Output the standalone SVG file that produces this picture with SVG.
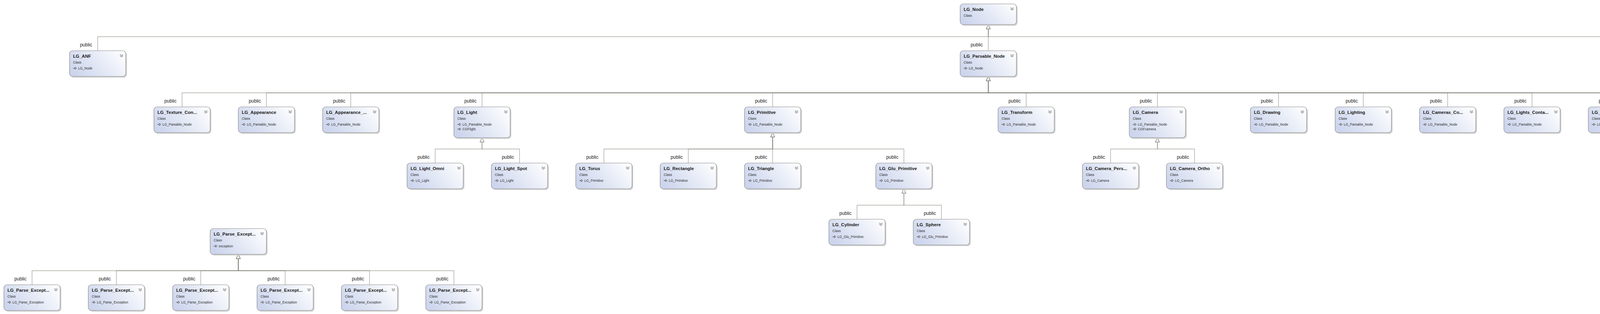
<svg xmlns="http://www.w3.org/2000/svg" width="5275" height="805" viewBox="0 0 5275 805">
<style>
.sh{fill:#d3d3d3}
.bx{fill:url(#hdr);stroke:#8b8b8b;stroke-width:1.2}
.bw{fill:#ffffff;stroke:#8b8b8b;stroke-width:1.2}
.t{font-family:"Liberation Sans",Arial,sans-serif;font-size:11.5px;font-weight:bold;fill:#1b1b1b}
.k{font-family:"Liberation Sans",Arial,sans-serif;font-size:8.5px;fill:#2b2b2b}
.b{font-family:"Liberation Sans",Arial,sans-serif;font-size:8.5px;fill:#2b2b2b}
.sec{font-family:"Liberation Sans",Arial,sans-serif;font-size:11px;fill:#2b2b2b}
.m{font-family:"Liberation Sans",Arial,sans-serif;font-size:11px;fill:#2b2b2b}
.band{fill:#eceff5}
.lbl{font-family:"Liberation Sans",Arial,sans-serif;font-size:12px;fill:#222;text-anchor:end}
.e{fill:none;stroke:#6f6f66;stroke-opacity:0.6;stroke-width:1.4;marker-end:url(#tri)}
</style>
<defs>
<linearGradient id="hdr" x1="0" y1="0.7" x2="1" y2="0.3">
<stop offset="0" stop-color="#ccd5ed"/>
<stop offset="0.5" stop-color="#e3e8f5"/>
<stop offset="1" stop-color="#fbfcfe"/>
</linearGradient>
<marker id="tri" markerUnits="userSpaceOnUse" markerWidth="14" markerHeight="14" refX="0" refY="0" orient="auto" overflow="visible" viewBox="-1 -7 14 14">
<path d="M0,-5 L11,0 L0,5 Z" fill="#ffffff" stroke="#77776f" stroke-width="1.1"/>
</marker>
<symbol id="ih" overflow="visible"><path d="M0,0 H6" stroke="#333" stroke-width="1.1"/><path d="M5,-3 V3 L9,0 Z" fill="#fff" stroke="#333" stroke-width="1"/></symbol>
<symbol id="cd" overflow="visible"><path d="M-4,-3.5 L0,-0.5 L4,-3.5 M-4,0 L0,3 L4,0" fill="none" stroke="#777" stroke-width="1.3"/></symbol>
<symbol id="cu" overflow="visible"><path d="M-4,3.5 L0,0.5 L4,3.5 M-4,0 L0,-3 L4,0" fill="none" stroke="#777" stroke-width="1.3"/></symbol>
<symbol id="mb" overflow="visible"><rect x="-4" y="-4" width="8" height="8" fill="#fff" stroke="#6b6b6b" stroke-width="1"/><path d="M-2,0 H2" stroke="#333" stroke-width="1"/></symbol>
<symbol id="fi" overflow="visible"><ellipse cx="0" cy="0" rx="4.6" ry="3" transform="rotate(-25)" fill="#1f6fb0"/><ellipse cx="-1" cy="-1" rx="2" ry="1" transform="rotate(-25)" fill="#8cc3ea"/><rect x="3" y="2.5" width="4" height="3.2" fill="#333"/><path d="M3.8,2.5 V1.3 A1.2,1.2 0 0 1 6.2,1.3 V2.5" fill="none" stroke="#333" stroke-width="0.8"/></symbol>
<symbol id="mi" overflow="visible"><path d="M0,-4.5 L4,-2.2 V2.2 L0,4.5 L-4,2.2 V-2.2 Z M-4,-2.2 L0,0 L4,-2.2 M0,0 V4.5" fill="none" stroke="#7b3ea3" stroke-width="1.1"/></symbol>
</defs>
<rect width="5275" height="805" fill="#ffffff"/>

<g id="connectors">
<path class="e" d="M250,130 V94 H2530 V74"/>
<path class="e" d="M2530,130 V74"/>
<path class="e" d="M4787,130 V94 H2530 V74"/>
<path class="e" d="M466,274 V238 H2530 V207"/>
<path class="e" d="M682,274 V238 H2530 V207"/>
<path class="e" d="M898,274 V238 H2530 V207"/>
<path class="e" d="M1234,274 V238 H2530 V207"/>
<path class="e" d="M1978,274 V238 H2530 V207"/>
<path class="e" d="M2627,274 V238 H2530 V207"/>
<path class="e" d="M2963,274 V238 H2530 V207"/>
<path class="e" d="M3273,274 V238 H2530 V207"/>
<path class="e" d="M3490,274 V238 H2530 V207"/>
<path class="e" d="M3706,274 V238 H2530 V207"/>
<path class="e" d="M3922,274 V238 H2530 V207"/>
<path class="e" d="M4138,274 V238 H2530 V207"/>
<path class="e" d="M4354,274 V238 H2530 V207"/>
<path class="e" d="M4570,274 V238 H2530 V207"/>
<path class="e" d="M1114,418 V382 H1234 V364"/>
<path class="e" d="M1330,418 V382 H1234 V364"/>
<path class="e" d="M1546,418 V382 H1978 V351"/>
<path class="e" d="M1762,418 V382 H1978 V351"/>
<path class="e" d="M1978,418 V351"/>
<path class="e" d="M2314,418 V382 H1978 V351"/>
<path class="e" d="M2843,418 V382 H2963 V364"/>
<path class="e" d="M3058,418 V382 H2963 V364"/>
<path class="e" d="M2194,562 V526 H2314 V495"/>
<path class="e" d="M2410,562 V526 H2314 V495"/>
<path class="e" d="M82,730 V694 H610 V663"/>
<path class="e" d="M298,730 V694 H610 V663"/>
<path class="e" d="M514,730 V694 H610 V663"/>
<path class="e" d="M730,730 V694 H610 V663"/>
<path class="e" d="M946,730 V694 H610 V663"/>
<path class="e" d="M1162,730 V694 H610 V663"/>
<text class="lbl" x="236" y="119">public</text>
<text class="lbl" x="2516" y="119">public</text>
<text class="lbl" x="4773" y="119">public</text>
<text class="lbl" x="452" y="263">public</text>
<text class="lbl" x="668" y="263">public</text>
<text class="lbl" x="884" y="263">public</text>
<text class="lbl" x="1220" y="263">public</text>
<text class="lbl" x="1964" y="263">public</text>
<text class="lbl" x="2613" y="263">public</text>
<text class="lbl" x="2949" y="263">public</text>
<text class="lbl" x="3259" y="263">public</text>
<text class="lbl" x="3476" y="263">public</text>
<text class="lbl" x="3692" y="263">public</text>
<text class="lbl" x="3908" y="263">public</text>
<text class="lbl" x="4124" y="263">public</text>
<text class="lbl" x="4340" y="263">public</text>
<text class="lbl" x="4556" y="263">public</text>
<text class="lbl" x="1100" y="407">public</text>
<text class="lbl" x="1316" y="407">public</text>
<text class="lbl" x="1532" y="407">public</text>
<text class="lbl" x="1748" y="407">public</text>
<text class="lbl" x="1964" y="407">public</text>
<text class="lbl" x="2300" y="407">public</text>
<text class="lbl" x="2829" y="407">public</text>
<text class="lbl" x="3044" y="407">public</text>
<text class="lbl" x="2180" y="551">public</text>
<text class="lbl" x="2396" y="551">public</text>
<text class="lbl" x="68" y="719">public</text>
<text class="lbl" x="284" y="719">public</text>
<text class="lbl" x="500" y="719">public</text>
<text class="lbl" x="716" y="719">public</text>
<text class="lbl" x="932" y="719">public</text>
<text class="lbl" x="1148" y="719">public</text>
</g>

<g id="LG_Node" transform="translate(2458,10)">
<rect class="sh" x="3" y="3" width="144" height="53" rx="8"/><rect class="bx" width="144" height="53" rx="8"/><use href="#cd" x="133" y="13"/>
<text class="t" x="9" y="18">LG_Node</text><text class="k" x="9" y="33">Class</text>
</g>

<g id="LG_Scene" transform="translate(4954,10)">
<rect class="sh" x="3" y="3" width="144" height="218" rx="8"/><rect class="bw" width="144" height="218" rx="8"/>
<path d="M0.6,8 A7.4,7.4 0 0 1 8,0.6 H136 A7.4,7.4 0 0 1 143.4,8 V65 H0.6 Z" fill="url(#hdr)"/>
<rect class="band" x="0.6" y="65" width="142.8" height="25"/>
<rect class="band" x="0.6" y="128" width="142.8" height="24"/>
<rect width="144" height="218" rx="8" fill="none" stroke="#8b8b8b" stroke-width="1.2"/>
<use href="#cu" x="133" y="13"/>
<text class="t" x="9" y="18">LG_Scene</text><text class="k" x="9" y="33">Class</text>
<use href="#ih" x="9" y="45"/><text class="b" x="22" y="48">CGFscene</text>
<use href="#mb" x="13" y="78"/><text class="sec" x="22" y="82">Fields</text>
<use href="#fi" x="27" y="100"/><text class="m" x="46" y="104">anf</text>
<use href="#fi" x="27" y="118"/><text class="m" x="46" y="122">docName</text>
<use href="#mb" x="13" y="140"/><text class="sec" x="22" y="144">Methods</text>
<use href="#mi" x="27" y="162"/><text class="m" x="46" y="166">display</text>
<use href="#mi" x="27" y="180"/><text class="m" x="46" y="184">init</text>
<use href="#mi" x="27" y="199"/><text class="m" x="46" y="203">setDocName</text>
</g>

<g id="LG_SceneInterface" transform="translate(5123,10)">
<rect class="sh" x="3" y="3" width="143" height="192" rx="8"/><rect class="bw" width="143" height="192" rx="8"/>
<path d="M0.6,8 A7.4,7.4 0 0 1 8,0.6 H135 A7.4,7.4 0 0 1 142.4,8 V65 H0.6 Z" fill="url(#hdr)"/>
<rect class="band" x="0.6" y="65" width="141.8" height="25"/>
<rect width="143" height="192" rx="8" fill="none" stroke="#8b8b8b" stroke-width="1.2"/>
<use href="#cu" x="132" y="13"/>
<text class="t" x="9" y="18">LG_SceneInterface</text><text class="k" x="9" y="33">Class</text>
<use href="#ih" x="9" y="45"/><text class="b" x="22" y="48">CGFinterface</text>
<use href="#mb" x="12" y="78"/><text class="sec" x="20" y="82">Methods</text>
<use href="#mi" x="25" y="100"/><text class="m" x="45" y="104">~LG_SceneInter...</text>
<use href="#mi" x="25" y="118"/><text class="m" x="45" y="122">initGUI</text>
<use href="#mi" x="25" y="137"/><text class="m" x="45" y="141">LG_SceneInterf...</text>
<use href="#mi" x="25" y="155"/><text class="m" x="45" y="159">processGUI</text>
<use href="#mi" x="25" y="173"/><text class="m" x="45" y="177">processKeyboard</text>
</g>

<g id="LG_ANF" transform="translate(178,130)">
<rect class="sh" x="3" y="3" width="144" height="66" rx="8"/><rect class="bx" width="144" height="66" rx="8"/><use href="#cd" x="133" y="13"/>
<text class="t" x="9" y="18">LG_ANF</text><text class="k" x="9" y="33">Class</text><use href="#ih" x="9" y="45"/><text class="b" x="22" y="48">LG_Node</text>
</g>
<g id="LG_Parsable_Node" transform="translate(2458,130)">
<rect class="sh" x="3" y="3" width="144" height="66" rx="8"/><rect class="bx" width="144" height="66" rx="8"/><use href="#cd" x="133" y="13"/>
<text class="t" x="9" y="18">LG_Parsable_Node</text><text class="k" x="9" y="33">Class</text><use href="#ih" x="9" y="45"/><text class="b" x="22" y="48">LG_Node</text>
</g>
<g id="LG_Graph" transform="translate(4715,130)">
<rect class="sh" x="3" y="3" width="144" height="66" rx="8"/><rect class="bx" width="144" height="66" rx="8"/><use href="#cd" x="133" y="13"/>
<text class="t" x="9" y="18">LG_Graph</text><text class="k" x="9" y="33">Class</text><use href="#ih" x="9" y="45"/><text class="b" x="22" y="48">LG_Node</text>
</g>

<g id="LG_Texture_Container" transform="translate(394,274)">
<rect class="sh" x="3" y="3" width="144" height="66" rx="8"/><rect class="bx" width="144" height="66" rx="8"/><use href="#cd" x="133" y="13"/>
<text class="t" x="9" y="18">LG_Texture_Con...</text><text class="k" x="9" y="33">Class</text><use href="#ih" x="9" y="45"/><text class="b" x="22" y="48">LG_Parsable_Node</text>
</g>
<g id="LG_Appearance" transform="translate(610,274)">
<rect class="sh" x="3" y="3" width="144" height="66" rx="8"/><rect class="bx" width="144" height="66" rx="8"/><use href="#cd" x="133" y="13"/>
<text class="t" x="9" y="18">LG_Appearance</text><text class="k" x="9" y="33">Class</text><use href="#ih" x="9" y="45"/><text class="b" x="22" y="48">LG_Parsable_Node</text>
</g>
<g id="LG_Appearance_Container" transform="translate(826,274)">
<rect class="sh" x="3" y="3" width="144" height="66" rx="8"/><rect class="bx" width="144" height="66" rx="8"/><use href="#cd" x="133" y="13"/>
<text class="t" x="9" y="18">LG_Appearance_...</text><text class="k" x="9" y="33">Class</text><use href="#ih" x="9" y="45"/><text class="b" x="22" y="48">LG_Parsable_Node</text>
</g>
<g id="LG_Light" transform="translate(1162,274)">
<rect class="sh" x="3" y="3" width="144" height="79" rx="8"/><rect class="bx" width="144" height="79" rx="8"/><use href="#cd" x="133" y="13"/>
<text class="t" x="9" y="18">LG_Light</text><text class="k" x="9" y="33">Class</text><use href="#ih" x="9" y="45"/><text class="b" x="22" y="48">LG_Parsable_Node</text><use href="#ih" x="9" y="57"/><text class="b" x="22" y="60">CGFlight</text>
</g>
<g id="LG_Primitive" transform="translate(1906,274)">
<rect class="sh" x="3" y="3" width="144" height="66" rx="8"/><rect class="bx" width="144" height="66" rx="8"/><use href="#cd" x="133" y="13"/>
<text class="t" x="9" y="18">LG_Primitive</text><text class="k" x="9" y="33">Class</text><use href="#ih" x="9" y="45"/><text class="b" x="22" y="48">LG_Parsable_Node</text>
</g>
<g id="LG_Transform" transform="translate(2555,274)">
<rect class="sh" x="3" y="3" width="144" height="66" rx="8"/><rect class="bx" width="144" height="66" rx="8"/><use href="#cd" x="133" y="13"/>
<text class="t" x="9" y="18">LG_Transform</text><text class="k" x="9" y="33">Class</text><use href="#ih" x="9" y="45"/><text class="b" x="22" y="48">LG_Parsable_Node</text>
</g>
<g id="LG_Camera" transform="translate(2891,274)">
<rect class="sh" x="3" y="3" width="144" height="79" rx="8"/><rect class="bx" width="144" height="79" rx="8"/><use href="#cd" x="133" y="13"/>
<text class="t" x="9" y="18">LG_Camera</text><text class="k" x="9" y="33">Class</text><use href="#ih" x="9" y="45"/><text class="b" x="22" y="48">LG_Parsable_Node</text><use href="#ih" x="9" y="57"/><text class="b" x="22" y="60">CGFcamera</text>
</g>
<g id="LG_Drawing" transform="translate(3201,274)">
<rect class="sh" x="3" y="3" width="144" height="66" rx="8"/><rect class="bx" width="144" height="66" rx="8"/><use href="#cd" x="133" y="13"/>
<text class="t" x="9" y="18">LG_Drawing</text><text class="k" x="9" y="33">Class</text><use href="#ih" x="9" y="45"/><text class="b" x="22" y="48">LG_Parsable_Node</text>
</g>
<g id="LG_Lighting" transform="translate(3418,274)">
<rect class="sh" x="3" y="3" width="144" height="66" rx="8"/><rect class="bx" width="144" height="66" rx="8"/><use href="#cd" x="133" y="13"/>
<text class="t" x="9" y="18">LG_Lighting</text><text class="k" x="9" y="33">Class</text><use href="#ih" x="9" y="45"/><text class="b" x="22" y="48">LG_Parsable_Node</text>
</g>
<g id="LG_Cameras_Container" transform="translate(3634,274)">
<rect class="sh" x="3" y="3" width="144" height="66" rx="8"/><rect class="bx" width="144" height="66" rx="8"/><use href="#cd" x="133" y="13"/>
<text class="t" x="9" y="18">LG_Cameras_Co...</text><text class="k" x="9" y="33">Class</text><use href="#ih" x="9" y="45"/><text class="b" x="22" y="48">LG_Parsable_Node</text>
</g>
<g id="LG_Lights_Container" transform="translate(3850,274)">
<rect class="sh" x="3" y="3" width="144" height="66" rx="8"/><rect class="bx" width="144" height="66" rx="8"/><use href="#cd" x="133" y="13"/>
<text class="t" x="9" y="18">LG_Lights_Conta...</text><text class="k" x="9" y="33">Class</text><use href="#ih" x="9" y="45"/><text class="b" x="22" y="48">LG_Parsable_Node</text>
</g>
<g id="LG_Culling" transform="translate(4066,274)">
<rect class="sh" x="3" y="3" width="144" height="66" rx="8"/><rect class="bx" width="144" height="66" rx="8"/><use href="#cd" x="133" y="13"/>
<text class="t" x="9" y="18">LG_Culling</text><text class="k" x="9" y="33">Class</text><use href="#ih" x="9" y="45"/><text class="b" x="22" y="48">LG_Parsable_Node</text>
</g>
<g id="LG_Graph_Node" transform="translate(4282,274)">
<rect class="sh" x="3" y="3" width="144" height="66" rx="8"/><rect class="bx" width="144" height="66" rx="8"/><use href="#cd" x="133" y="13"/>
<text class="t" x="9" y="18">LG_Graph_Node</text><text class="k" x="9" y="33">Class</text><use href="#ih" x="9" y="45"/><text class="b" x="22" y="48">LG_Parsable_Node</text>
</g>
<g id="LG_Texture" transform="translate(4498,274)">
<rect class="sh" x="3" y="3" width="144" height="79" rx="8"/><rect class="bx" width="144" height="79" rx="8"/><use href="#cd" x="133" y="13"/>
<text class="t" x="9" y="18">LG_Texture</text><text class="k" x="9" y="33">Class</text><use href="#ih" x="9" y="45"/><text class="b" x="22" y="48">LG_Parsable_Node</text><use href="#ih" x="9" y="57"/><text class="b" x="22" y="60">CGFtexture</text>
</g>

<g id="LG_Light_Omni" transform="translate(1042,418)">
<rect class="sh" x="3" y="3" width="144" height="66" rx="8"/><rect class="bx" width="144" height="66" rx="8"/><use href="#cd" x="133" y="13"/>
<text class="t" x="9" y="18">LG_Light_Omni</text><text class="k" x="9" y="33">Class</text><use href="#ih" x="9" y="45"/><text class="b" x="22" y="48">LG_Light</text>
</g>
<g id="LG_Light_Spot" transform="translate(1258,418)">
<rect class="sh" x="3" y="3" width="144" height="66" rx="8"/><rect class="bx" width="144" height="66" rx="8"/><use href="#cd" x="133" y="13"/>
<text class="t" x="9" y="18">LG_Light_Spot</text><text class="k" x="9" y="33">Class</text><use href="#ih" x="9" y="45"/><text class="b" x="22" y="48">LG_Light</text>
</g>
<g id="LG_Torus" transform="translate(1474,418)">
<rect class="sh" x="3" y="3" width="144" height="66" rx="8"/><rect class="bx" width="144" height="66" rx="8"/><use href="#cd" x="133" y="13"/>
<text class="t" x="9" y="18">LG_Torus</text><text class="k" x="9" y="33">Class</text><use href="#ih" x="9" y="45"/><text class="b" x="22" y="48">LG_Primitive</text>
</g>
<g id="LG_Rectangle" transform="translate(1690,418)">
<rect class="sh" x="3" y="3" width="144" height="66" rx="8"/><rect class="bx" width="144" height="66" rx="8"/><use href="#cd" x="133" y="13"/>
<text class="t" x="9" y="18">LG_Rectangle</text><text class="k" x="9" y="33">Class</text><use href="#ih" x="9" y="45"/><text class="b" x="22" y="48">LG_Primitive</text>
</g>
<g id="LG_Triangle" transform="translate(1906,418)">
<rect class="sh" x="3" y="3" width="144" height="66" rx="8"/><rect class="bx" width="144" height="66" rx="8"/><use href="#cd" x="133" y="13"/>
<text class="t" x="9" y="18">LG_Triangle</text><text class="k" x="9" y="33">Class</text><use href="#ih" x="9" y="45"/><text class="b" x="22" y="48">LG_Primitive</text>
</g>
<g id="LG_Glu_Primitive" transform="translate(2242,418)">
<rect class="sh" x="3" y="3" width="144" height="66" rx="8"/><rect class="bx" width="144" height="66" rx="8"/><use href="#cd" x="133" y="13"/>
<text class="t" x="9" y="18">LG_Glu_Primitive</text><text class="k" x="9" y="33">Class</text><use href="#ih" x="9" y="45"/><text class="b" x="22" y="48">LG_Primitive</text>
</g>
<g id="LG_Camera_Perspective" transform="translate(2771,418)">
<rect class="sh" x="3" y="3" width="144" height="66" rx="8"/><rect class="bx" width="144" height="66" rx="8"/><use href="#cd" x="133" y="13"/>
<text class="t" x="9" y="18">LG_Camera_Pers...</text><text class="k" x="9" y="33">Class</text><use href="#ih" x="9" y="45"/><text class="b" x="22" y="48">LG_Camera</text>
</g>
<g id="LG_Camera_Ortho" transform="translate(2986,418)">
<rect class="sh" x="3" y="3" width="144" height="66" rx="8"/><rect class="bx" width="144" height="66" rx="8"/><use href="#cd" x="133" y="13"/>
<text class="t" x="9" y="18">LG_Camera_Ortho</text><text class="k" x="9" y="33">Class</text><use href="#ih" x="9" y="45"/><text class="b" x="22" y="48">LG_Camera</text>
</g>

<g id="LG_Cylinder" transform="translate(2122,562)">
<rect class="sh" x="3" y="3" width="144" height="66" rx="8"/><rect class="bx" width="144" height="66" rx="8"/><use href="#cd" x="133" y="13"/>
<text class="t" x="9" y="18">LG_Cylinder</text><text class="k" x="9" y="33">Class</text><use href="#ih" x="9" y="45"/><text class="b" x="22" y="48">LG_Glu_Primitive</text>
</g>
<g id="LG_Sphere" transform="translate(2338,562)">
<rect class="sh" x="3" y="3" width="144" height="66" rx="8"/><rect class="bx" width="144" height="66" rx="8"/><use href="#cd" x="133" y="13"/>
<text class="t" x="9" y="18">LG_Sphere</text><text class="k" x="9" y="33">Class</text><use href="#ih" x="9" y="45"/><text class="b" x="22" y="48">LG_Glu_Primitive</text>
</g>

<g id="LG_Parse_Exception" transform="translate(538,586)">
<rect class="sh" x="3" y="3" width="144" height="66" rx="8"/><rect class="bx" width="144" height="66" rx="8"/><use href="#cd" x="133" y="13"/>
<text class="t" x="9" y="18">LG_Parse_Except...</text><text class="k" x="9" y="33">Class</text><use href="#ih" x="9" y="45"/><text class="b" x="22" y="48">exception</text>
</g>
<g id="LG_Parse_Exception_1" transform="translate(10,730)">
<rect class="sh" x="3" y="3" width="144" height="66" rx="8"/><rect class="bx" width="144" height="66" rx="8"/><use href="#cd" x="133" y="13"/>
<text class="t" x="9" y="18">LG_Parse_Except...</text><text class="k" x="9" y="33">Class</text><use href="#ih" x="9" y="45"/><text class="b" x="22" y="48">LG_Parse_Exception</text>
</g>
<g id="LG_Parse_Exception_2" transform="translate(226,730)">
<rect class="sh" x="3" y="3" width="144" height="66" rx="8"/><rect class="bx" width="144" height="66" rx="8"/><use href="#cd" x="133" y="13"/>
<text class="t" x="9" y="18">LG_Parse_Except...</text><text class="k" x="9" y="33">Class</text><use href="#ih" x="9" y="45"/><text class="b" x="22" y="48">LG_Parse_Exception</text>
</g>
<g id="LG_Parse_Exception_3" transform="translate(442,730)">
<rect class="sh" x="3" y="3" width="144" height="66" rx="8"/><rect class="bx" width="144" height="66" rx="8"/><use href="#cd" x="133" y="13"/>
<text class="t" x="9" y="18">LG_Parse_Except...</text><text class="k" x="9" y="33">Class</text><use href="#ih" x="9" y="45"/><text class="b" x="22" y="48">LG_Parse_Exception</text>
</g>
<g id="LG_Parse_Exception_4" transform="translate(658,730)">
<rect class="sh" x="3" y="3" width="144" height="66" rx="8"/><rect class="bx" width="144" height="66" rx="8"/><use href="#cd" x="133" y="13"/>
<text class="t" x="9" y="18">LG_Parse_Except...</text><text class="k" x="9" y="33">Class</text><use href="#ih" x="9" y="45"/><text class="b" x="22" y="48">LG_Parse_Exception</text>
</g>
<g id="LG_Parse_Exception_5" transform="translate(874,730)">
<rect class="sh" x="3" y="3" width="144" height="66" rx="8"/><rect class="bx" width="144" height="66" rx="8"/><use href="#cd" x="133" y="13"/>
<text class="t" x="9" y="18">LG_Parse_Except...</text><text class="k" x="9" y="33">Class</text><use href="#ih" x="9" y="45"/><text class="b" x="22" y="48">LG_Parse_Exception</text>
</g>
<g id="LG_Parse_Exception_6" transform="translate(1090,730)">
<rect class="sh" x="3" y="3" width="144" height="66" rx="8"/><rect class="bx" width="144" height="66" rx="8"/><use href="#cd" x="133" y="13"/>
<text class="t" x="9" y="18">LG_Parse_Except...</text><text class="k" x="9" y="33">Class</text><use href="#ih" x="9" y="45"/><text class="b" x="22" y="48">LG_Parse_Exception</text>
</g>
</svg>
